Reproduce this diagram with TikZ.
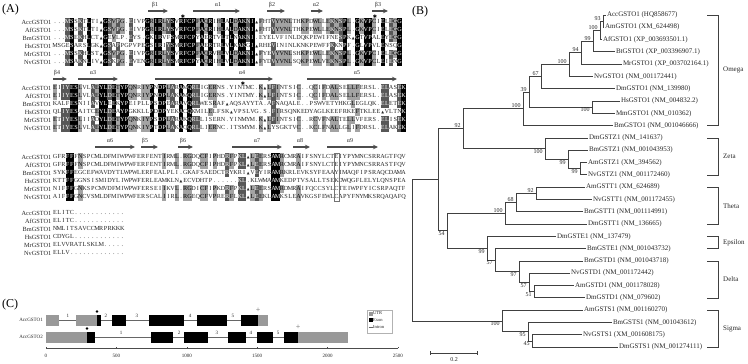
\documentclass[tikz,border=0pt]{standalone}
\usepackage{fontspec}
\setmainfont{Liberation Serif}
\newfontfamily\symfont{DejaVu Sans}
\usetikzlibrary{arrows.meta}

% residues are kept one per macro: \csname aln:<block>:<row>:<col>\endcsname
\newcount\alncol
\newcount\alnk
\def\alnset#1#2#3{\def\alnblk{#1}\def\alnrw{#2}\global\alncol=0 \alnsplit#3\relax}
\def\alnsplit#1{\ifx#1\relax\else
  \global\advance\alncol by 1
  \expandafter\gdef\csname aln:\alnblk:\alnrw:\the\alncol\endcsname{#1}%
  \expandafter\alnsplit\fi}
\def\alndot{.}
\def\alnins{!}
% count the rows sharing the residue of row #2, column #3 -> shade
\def\alnmatch#1#2#3{%
  \global\alnk=0
  \expandafter\let\expandafter\alnme\csname aln:#1:#2:#3\endcsname
  \foreach \s in {1,...,6}{%
    \expandafter\ifx\csname aln:#1:\s:#3\endcsname\alnme\global\advance\alnk by 1 \fi}%
  \ifx\alnme\alndot\global\alnk=0 \fi
  \ifx\alnme\alnins\global\alnk=0 \fi
  \ifnum\alnk<4 \gdef\alnfill{none}\gdef\alntext{black!85}\fi
  \ifnum\alnk=4 \gdef\alnfill{black!36}\gdef\alntext{black}\fi
  \ifnum\alnk=5 \gdef\alnfill{black!66}\gdef\alntext{white}\fi
  \ifnum\alnk=6 \gdef\alnfill{black}\gdef\alntext{white}\fi}
% ! stands for the insertion mark
\def\alnres#1#2#3{%
  \expandafter\let\expandafter\alnme\csname aln:#1:#2:#3\endcsname
  \ifx\alnme\alnins{\symfont\fontsize{3.6}{4}\selectfont ▲}\else\alnme\fi}

% block 1
\alnset{1}{1}{...MSSKTLTI!GSVPG.EIVPGRIRLYSVRFCPFAQRIHLALDAKNI!FHTVYVNLTHKPDWLLEKNSPL.GKVPCIELEGG}
\alnset{1}{2}{...MSSKTLTI!GSVPG.EIVPGRIRLYSVRFCPFAQRIHLALDAKNI!FHTVYVNLTHKPEWLLEKNSPL.GKVPCIELEGG}
\alnset{1}{3}{...MSEKHLCT!GEVLP.EYS.GKIRVFSMRFCPYAERTVLTLNAKNI.EYELVFINLDQKPEWIFNESPK!GTVPALEYEGG}
\alnset{1}{4}{MSGESARSLGK!GSAPPGPVPEGSIRIYSMRFCPFAERTRLVLKAKGI!RHEVININLKNKPEWFFKKNPF.GLVPVLENSQG}
\alnset{1}{5}{...MSSKHLST!GSVPG.EIVPGRIRLYSVRFCPFAQRVHLVLDAKNI!FYEVYVNLSHKPEWLLEKNSPL.GKVPCIELEGG}
\alnset{1}{6}{...MSAKNLIV!GSKPG.EVENGRIRLYSMRFCPYAQRIHLVLDAKNI!FYDVYVNLSQKPEWLVEKNSPL.GKVPCLEIENG}
% block 2
\alnset{2}{1}{EIIYESLVLAEYLDETYPQNRIYPNDPLARAMQRLIGERNS.YINTMC.K!LFINTSIC..QCIFDALSELLFERSL.ELASEK}
\alnset{2}{2}{EIIYESLVLAEYLDETYPQNRIYPNDPLAKAMQRLIGERNS.YINTMY.K!LFINTSIC..QCIFDALSELLFERSL.ELASEK}
\alnset{2}{3}{KALFESNIIAVYLEEKYPEIPLLPSDPEARAVQRLWESRAF!AQSAYYTA.AFNAQALE..PSWVETYHKGLEGLQK.ELETEK}
\alnset{2}{4}{QLIYESAITCEYLDEAYPGKKLLPDDPYEKACQKMILELFSK!VPSLVG.S.FIRSQNKEDYAGLKEEFRKEFTKLEE!VLTNK}
\alnset{2}{5}{ETIYESLIIADYLDETYPQNKIYPSDPLARAKQRLLISERN.YINMYM.K!LFINTSIC..RCVFNALTELLVFERS.ELISEK}
\alnset{2}{6}{ETIYESLVLAEYLDETYPQNKIYPTDPLAKAQQRLLIERNC.ITSMYM.K!LYSGKTVC..KCLFNALLGLIFDRSL.ELAKEK}
% block 3
\alnset{3}{1}{GFRFFFNSPCMLDFMIWPWFERFENTIRML.RGDQCFIPHDRFPKL!LEERSAMRCMRAIFSNYLCTEIYPYMNCSRRAGTFQV}
\alnset{3}{2}{GFRFFFNSPCMLDFMIWPWFERFENTIRML.RGDQCFIPHDRFPKL!LEERSAMRCMRAIFSNYLCTEIYPYMNCSRRASTFQV}
\alnset{3}{3}{SYKFFEGCEFWAVDYTLWPWLERFEALPLI.GKAFSAEDCTRYKRI!VEYIRAMRKRLEVKSYFEAAYIMAQFIPSRAQCDAMA}
\alnset{3}{4}{KTTFFGGNSISMIDYLIWPWFERLEAMKLN!ECVDHTP......KL.KLWMAAMKEDPTVSALLTSEKDWQGFLELYLQNSPEA}
\alnset{3}{5}{NIFFFGNKSPCMVDFMIWPWFERSEIIKVL.RGDICFIPKDRFPKL!LEERSAMRDMRAIFQCCSYLCTEIWPFYICSRPAQTF}
\alnset{3}{6}{AIFFFGNCVSMLDFMIWPWFERSCALIIRL.RGEQCFVPRERFLKL!LEEKLAMKSLEAVKGSFEWLCAPYFNYMKSRQAQAFQ}
% C-terminal tails
\alnset{4}{1}{ELITC............}
\alnset{4}{2}{ELITC............}
\alnset{4}{3}{NMLITSAVCCMRPRKKK}
\alnset{4}{4}{CDYGL............}
\alnset{4}{5}{ELVVRATLSKLM.....}
\alnset{4}{6}{ELLV.............}

\begin{document}
\begin{tikzpicture}[x=1pt, y=-1pt,
    res/.style={inner sep=0pt, minimum width=4.2pt, minimum height=8pt,
      text height=4.3pt, text depth=1.2pt, font=\fontsize{6.2}{7}\selectfont},
    seqname/.style={anchor=east, inner sep=0pt, font=\fontsize{6.3}{7}\selectfont, text=black!85},
    panel/.style={anchor=west, inner sep=0pt, font=\fontsize{12}{12}\selectfont},
    helix/.style={line width=1.1pt, black!70, -{Stealth[length=5pt,width=4.5pt]}},
    sslab/.style={inner sep=0pt, font=\fontsize{6}{6}\selectfont, text=black!85},
    site/.style={inner sep=0pt, font=\symfont\fontsize{5}{5}\selectfont},
    branch/.style={line width=0.9pt, black!75},
    leaf/.style={anchor=west, inner sep=0.8pt, font=\fontsize{7}{8}\selectfont, text=black!85},
    boot/.style={inner sep=0.6pt, xshift=-1.5pt, font=\fontsize{6}{7}\selectfont, text=black!85},
    clade/.style={line width=0.8pt, black!75},
    cladename/.style={anchor=west, inner sep=0pt, font=\fontsize{7}{8}\selectfont, text=black!85},
    utr/.style={fill=black!40},
    exon/.style={fill=black},
    intron/.style={line width=0.6pt, black!60},
    small/.style={inner sep=0pt, font=\fontsize{5}{6}\selectfont, text=black!85}]

  \useasboundingbox (0,0) rectangle (748,364);

  \node[panel] (pA) at (2,10) {(A)};
  \node[panel] (pB) at (412,12) {(B)};
  \node[panel] (pC) at (2,305) {(C)};

  % ---------------- (A) alignment ----------------
  \def\seqx{53}
  \def\cw{4.2}
  \foreach \blk/\ytop/\ncol in {1/22/83, 2/88/84, 3/157/84}{
    \foreach \col in {1,...,\ncol}{
      \foreach \row in {1,...,6}{
        \alnmatch{\blk}{\row}{\col}
        \node[res, fill=\alnfill, text=\alntext, name=r\blk-\row-\col]
          at ({\seqx+\cw*(\col-0.5)},{\ytop+8*(\row-1)}) {\alnres{\blk}{\row}{\col}};
      }
    }
  }
  % tails, no shading
  \foreach \col in {1,...,17}{
    \foreach \row in {1,...,6}{
      \node[res, text=black!85, name=r4-\row-\col]
        at ({\seqx+\cw*(\col-0.5)},{213+8*(\row-1)}) {\alnres{4}{\row}{\col}};
    }
  }
  \foreach \blk/\ytop in {1/22, 2/88, 3/157, 4/213}{
    \foreach \nm [count=\row] in {AccGSTO1,AfGSTO1,BmGSTO1,HsGSTO1,MrGSTO1,NvGSTO1}
      \node[seqname, name=s\blk-\row] at (\seqx-1.5, {\ytop+8*(\row-1)}) {\nm};
  }
  % boxed column in block 3
  \draw[black!55, line width=0.5pt] (r3-1-68.north west) rectangle (r3-6-68.south east);

  % secondary structure
  \foreach \xa/\xb/\xl/\ys/\lab [count=\k] in {
      148/168/155/11/β1, 193/240/218/11/α1, 267/285/272/11/β2,
      311/323/316/11/α2, 372/388/378/11/β3,
      53/67/57/79/β4, 78/118/93/79/α3, 155/273/242/79/α4, 307/397/357/79/α5,
      95/135/110/147/α6, 141/158/145/147/β5, 178/193/183/147/β6,
      232/282/257/147/α7, 293/310/300/147/α8, 327/378/350/147/α9}{
    \draw[helix] (\xa,\ys) -- (\xb,\ys);
    \node[sslab, name=ss\k] at (\xl,\ys-6) {\lab};
  }
  \foreach \xs/\ys [count=\k] in {183/16.5, 375/16.5, 243/84}
    \node[site, name=st\k] at (\xs,\ys) {✱};

  % ---------------- (B) tree ----------------
  % leaves, 12.3 apart
  \foreach \tx/\i/\lab in {
      606/1/AccGSTO1 (HQ858677), 604/2/AmGSTO1 (XM\_624498),
      602/3/AfGSTO1 (XP\_003693501.1), 615/4/BtGSTO1 (XP\_003396907.1),
      622/5/MrGSTO1 (XP\_003702164.1), 593/6/NvGSTO1 (NM\_001172441),
      615/7/DmGSTO1 (NM\_139980), 620/8/HsGSTO1 (NM\_004832.2),
      615/9/MmGSTO1 (NM\_010362), 613/10/BmGSTO1 (NM\_001046666),
      588/11/DmGSTZ1 (NM\_141637), 588/12/BmGSTZ1 (NM\_001043953),
      587/13/AmGSTZ1 (XM\_394562), 587/14/NvGSTZ1 (NM\_001172460),
      585/15/AmGSTT1 (XM\_624689), 592/16/NvGSTT1 (NM\_001172455),
      583/17/BmGSTT1 (NM\_001114991), 587/18/DmGSTT1 (NM\_136665),
      556/19/DmGSTE1 (NM\_137479), 586/20/BmGSTE1 (NM\_001043732),
      583/21/BmGSTD1 (NM\_001043718), 570/22/NvGSTD1 (NM\_001172442),
      574/23/AmGSTD1 (NM\_001178028), 585/24/DmGSTD1 (NM\_079602),
      583/25/AmGSTS1 (NM\_001160270), 612/26/BmGSTS1 (NM\_001043612),
      582/27/NvGSTS1 (XM\_001608175), 618/28/DmGSTS1 (NM\_001274111)}{
    \coordinate (t\i) at (\tx,{15+12.3*(\i-1)});
    \node[leaf] (l\i) at (t\i) {\lab};
  }

  % internal nodes
  \coordinate (root) at (412,250.4);
  \coordinate (n54) at (438,179.8);
  \coordinate (n92) at (463,128.8);
  \coordinate (nOm) at (523,108.8);
  \coordinate (n39) at (529,92);
  \coordinate (n67) at (541,76.7);
  \coordinate (nO100) at (569,64.6);
  \coordinate (n94) at (581,52.7);
  \coordinate (n99) at (593,41.1);
  \coordinate (nO100b) at (600,30.4);
  \coordinate (n93) at (603,21.2);
  \coordinate (nHM) at (592,107.2);
  \coordinate (nZ) at (545,148.8);
  \coordinate (nZ99a) at (568,159.5);
  \coordinate (nZ99b) at (580,168.8);
  \coordinate (nX) at (447,230.8);
  \coordinate (nT) at (505,213.3);
  \coordinate (nT68) at (516,202.6);
  \coordinate (nT92) at (536,193.4);
  \coordinate (nE) at (487,248.3);
  \coordinate (nE57) at (495,260.2);
  \coordinate (nD97) at (519,271.8);
  \coordinate (nD57) at (529,282.5);
  \coordinate (nD51) at (534,291.8);
  \coordinate (nS) at (502,321);
  \coordinate (nS95) at (528,331.7);
  \coordinate (nS45) at (532,341);

  \foreach \p/\c in {root/n54, root/nS, n54/n92, n54/nX, n92/nOm, n92/nZ,
      nOm/n39, nOm/t10, n39/n67, n39/nHM, n67/nO100, n67/t7, nO100/n94, nO100/t6,
      n94/n99, n94/t5, n99/nO100b, n99/t4, nO100b/n93, nO100b/t3, n93/t1, n93/t2,
      nHM/t8, nHM/t9, nZ/t11, nZ/nZ99a, nZ99a/t12, nZ99a/nZ99b, nZ99b/t13, nZ99b/t14,
      nX/nT, nX/nE, nT/nT68, nT/t18, nT68/nT92, nT68/t17, nT92/t15, nT92/t16,
      nE/t19, nE/nE57, nE57/t20, nE57/nD97, nD97/t21, nD97/nD57, nD57/t22, nD57/nD51,
      nD51/t23, nD51/t24, nS/t25, nS/nS95, nS95/t26, nS95/nS45, nS45/t27, nS45/t28}
    \draw[branch] (\p) |- (\c);

  % bootstrap values
  \foreach \n/\v in {n92/92, nOm/100, n39/39, n67/67, nO100/100, n94/94, n99/99,
      nO100b/100, n93/93, nT/100, nT68/68, nT92/92}
    \node[boot, anchor=south east] (b\n) at (\n) {\v};
  \foreach \n/\v in {nHM/100, nZ/100, nZ99a/99, nZ99b/99, nX/54, nE/99, nE57/57,
      nD97/97, nD57/57, nD51/51, nS/100, nS95/95, nS45/45}
    \node[boot, anchor=north east] (b\n) at (\n) {\v};

  % clades
  \foreach \ya/\yb/\nm in {15/125.7/Omega, 138/174.9/Zeta, 187.2/224.1/Theta,
      236.4/248.7/Epsilon, 261/297.9/Delta, 310.2/347.1/Sigma}{
    \draw[clade] (707,\ya) -- (718,\ya) -- (718,\yb) -- (707,\yb);
    \node[cladename] (c\nm) at (723,{(\ya+\yb)/2}) {\nm};
  }

  % scale bar
  \coordinate (sb0) at (430,353);
  \coordinate (sb1) at (478,353);
  \draw[branch, {Bar[width=4pt]}-{Bar[width=4pt]}] (sb0) -- (sb1);
  \node[small, font=\fontsize{6}{7}\selectfont] (sbl) at (454,360) {0.2};

  % ---------------- (C) gene structure ----------------
  \node[small, anchor=east] (g1) at (43,320) {AccGSTO1};
  \node[small, anchor=east] (g2) at (43,337) {AccGSTO2};
  \begin{scope}[shift={(46,0)}, x=0.1408pt]
    \draw[intron] (0,320) -- (1577,320);
    \draw[intron] (0,337) -- (2145,337);
    \foreach \a/\b in {0/92, 213/362, 1506/1577}
      \fill[utr] (\a,314.5) rectangle (\b,325.5);
    \foreach \a/\b in {362/391, 469/568, 731/980, 1072/1286, 1385/1506}
      \fill[exon] (\a,314.5) rectangle (\b,325.5);
    \foreach \a/\b in {0/291, 1790/2145}
      \fill[utr] (\a,331.5) rectangle (\b,342.5);
    \foreach \a/\b in {291/348, 746/902, 980/1151, 1293/1420, 1499/1612, 1690/1790}
      \fill[exon] (\a,331.5) rectangle (\b,342.5);
    \foreach \xa/\v in {156/1, 426/2, 646/3, 1023/4, 1328/5}
      \node[small] (ia\v) at (\xa,316) {\v};
    \foreach \xa/\v in {533/1, 945/2, 1214/3, 1456/4, 1648/5}
      \node[small] (ib\v) at (\xa,333) {\v};
    % start and stop codons
    \fill (362,311.5) circle (1.3pt);
    \fill (291,328.5) circle (1.3pt);
    \node[small, font=\fontsize{8}{8}\selectfont, text=black!60] (stop1) at (1506,310.5) {+};
    \node[small, font=\fontsize{8}{8}\selectfont, text=black!60] (stop2) at (1790,327.5) {+};
    % axis
    \draw[line width=0.5pt, black!70] (0,348) -- (2500,348);
    \foreach \v in {0,500,...,2500}{
      \draw[line width=0.5pt, black!70] (\v,348) -- (\v,346.5);
      \node[small] (ax\v) at (\v,355.5) {\v};
    }
  \end{scope}
  % legend
  \draw[black!30, line width=0.4pt] (367,310) rectangle (392,333);
  \fill[utr] (368.5,311.5) rectangle (372.5,315.5);
  \node[small, anchor=west, font=\fontsize{4.5}{5}\selectfont] (lg1) at (373,313.5) {UTR};
  \fill[exon] (368.5,318) rectangle (372.5,322);
  \node[small, anchor=west, font=\fontsize{4.5}{5}\selectfont] (lg2) at (373,320) {Exon};
  \draw[intron] (368.5,327) -- (372.5,327);
  \node[small, anchor=west, font=\fontsize{4.5}{5}\selectfont] (lg3) at (373,327) {Intron};
\end{tikzpicture}
\end{document}
